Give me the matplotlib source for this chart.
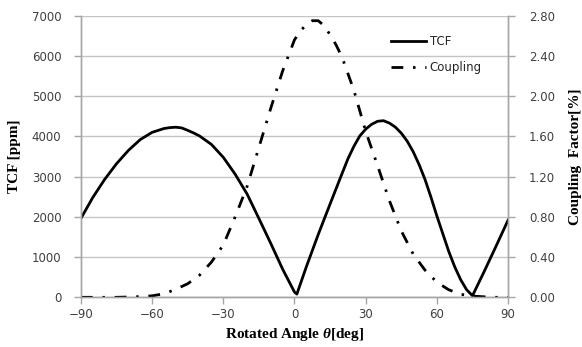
import matplotlib
matplotlib.use("Agg")
import matplotlib.pyplot as plt

# ---- data ----
angle_tcf = [-90, -85, -80, -75, -70, -65, -60, -55, -52.5, -50, -47.5, -45, -42.5, -40, -35,
             -30, -25, -20, -15, -10, -5, 0, 1, 5, 10, 15, 20, 22.5, 25, 27.5, 30, 32.5, 35,
             37.5, 40, 42.5, 45, 47.5, 50, 52.5, 55, 57.5, 60, 62.5, 65, 67.5, 70, 72.5, 75,
             80, 85, 90]
tcf_ppm = [1960, 2480, 2930, 3320, 3650, 3920, 4100, 4195, 4218, 4228, 4210, 4150, 4085, 4010,
           3800, 3480, 3060, 2570, 1960, 1340, 700, 130, 80, 760, 1560, 2320, 3070, 3440,
           3750, 4010, 4180, 4300, 4375, 4390, 4330, 4230, 4080, 3880, 3620, 3300, 2930,
           2490, 2020, 1580, 1140, 760, 440, 190, 40, 650, 1280, 1920]

angle_cpl = [-90, -85, -80, -75, -70, -65, -60, -55, -50, -45, -40, -35, -30, -25, -20, -15,
             -10, -5, 0, 2.5, 5, 7.5, 10, 12.5, 15, 17.5, 20, 25, 30, 35, 40, 45, 50, 55, 60,
             65, 70, 75, 80, 85, 90]
coupling_pct = [0.0, 0.0, 0.0, 0.0, 0.003, 0.007, 0.015, 0.035, 0.08, 0.135, 0.22, 0.35, 0.52,
                0.80, 1.10, 1.49, 1.88, 2.25, 2.56, 2.65, 2.71, 2.75, 2.75, 2.70, 2.61, 2.51,
                2.39, 2.06, 1.65, 1.31, 0.96, 0.66, 0.43, 0.27, 0.15, 0.075, 0.03, 0.012,
                0.005, 0.0, 0.0]

x_ticks = [-90, -60, -30, 0, 30, 60, 90]
y1_ticks = [0, 1000, 2000, 3000, 4000, 5000, 6000, 7000]
y2_ticks = [0.0, 0.4, 0.8, 1.2, 1.6, 2.0, 2.4, 2.8]

plt.rcParams['mathtext.fontset'] = 'custom'
plt.rcParams['mathtext.rm'] = 'Liberation Serif:bold'
plt.rcParams['mathtext.it'] = 'Liberation Serif:italic:bold'
plt.rcParams['mathtext.bf'] = 'Liberation Serif:bold'
plt.rcParams['lines.scale_dashes'] = False

tick_font = dict(family='DejaVu Sans', size=8.5)
label_font = dict(family='Liberation Serif', weight='bold', size=11)
grid_col = '#c6c6c6'
axis_col = '#a6a6a6'
tick_col = '#404040'

fig = plt.figure(figsize=(5.82, 3.47), dpi=100)
ax1 = fig.add_axes([0.139, 0.1432, 0.734, 0.8116])
ax2 = ax1.twinx()

l1, = ax1.plot(angle_tcf, tcf_ppm, color='black', lw=2.0, solid_joinstyle='round', label='TCF')
l2, = ax2.plot(angle_cpl, coupling_pct, color='black', lw=2.0,
               linestyle=(0, (8.5, 7.0, 1.8, 7.0)), dash_capstyle='butt', label='Coupling')

ax1.set_xlim(-90, 90)
ax1.set_ylim(0, 7000)
ax2.set_ylim(0, 2.8)
ax1.set_xticks(x_ticks)
ax1.set_xticklabels([str(v).replace('-', '\u2212') for v in x_ticks], **tick_font, color=tick_col)
ax1.set_yticks(y1_ticks)
ax1.set_yticklabels([str(v) for v in y1_ticks], **tick_font, color=tick_col)
ax2.set_yticks(y2_ticks)
ax2.set_yticklabels([f"{v:.2f}" for v in y2_ticks], **tick_font, color=tick_col)

ax1.grid(axis='y', color=grid_col, lw=1.0)
ax1.set_axisbelow(True)

for ax in (ax1, ax2):
    ax.spines['top'].set_visible(False)
    for s in ('left', 'bottom', 'right'):
        ax.spines[s].set_color(axis_col)
        ax.spines[s].set_linewidth(1.0)
    ax.tick_params(colors=axis_col, labelcolor=tick_col)

ax1.tick_params(axis='y', direction='out', length=5, width=1, pad=9)
ax1.tick_params(axis='x', direction='out', length=5, width=1, pad=3)
ax2.tick_params(axis='y', direction='out', length=5, width=1, pad=10)

ax1.set_xlabel(r"Rotated Angle $\theta$[deg]", **label_font, labelpad=3)
ax1.set_ylabel("TCF [ppm]", **label_font, labelpad=8)
ax2.set_ylabel("Coupling  Factor[%]", **label_font, labelpad=10)

leg = ax2.legend(handles=[l1, l2], loc='upper left', bbox_to_anchor=(0.70, 0.97),
                 frameon=False, handlelength=3.0, handletextpad=0.3, labelspacing=1.1,
                 prop=dict(family='DejaVu Sans', size=8.5))
for t in leg.get_texts():
    t.set_color('#262626')

fig.savefig("out.png", dpi=100)
